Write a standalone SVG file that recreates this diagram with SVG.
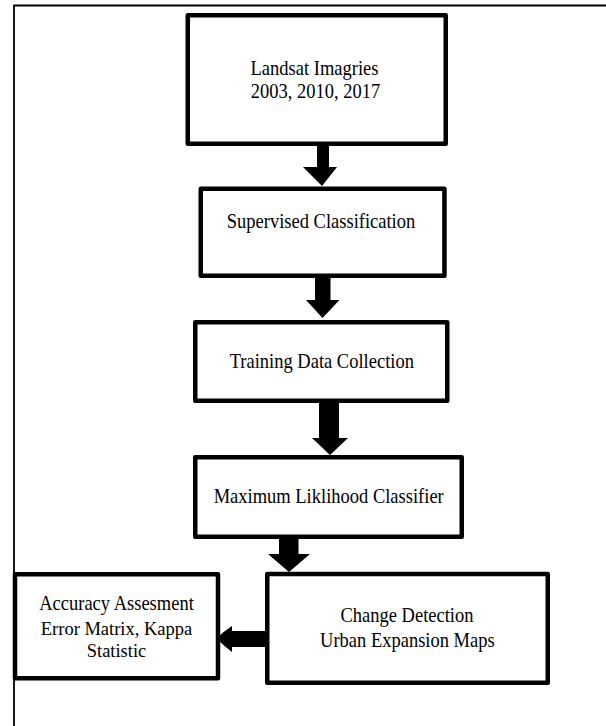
<svg xmlns="http://www.w3.org/2000/svg" width="606" height="726" viewBox="0 0 606 726">
<style>
.box{fill:#fff;stroke:#000;stroke-width:4.5;stroke-linejoin:round}
.arr{fill:#000;stroke:none}
.frame{fill:none;stroke:#000;stroke-width:1.8}
text{font-family:"Liberation Serif","Times New Roman",serif;font-size:18.5px;fill:#000;text-anchor:middle}
</style>
<rect width="606" height="726" fill="#fff"/>
<path class="frame" d="M14,726 V5.5 H606"/>
<g id="connectors">
<polygon class="arr" points="317,146 329,146 329,167 337,167 322,186 303,167 317,167"/>
<polygon class="arr" points="315,278 330.5,278 330.5,300 339.5,300 322.5,318 306,300 315,300"/>
<polygon class="arr" points="319,403 339,403 339,438 348,438 330,455 312,438 319,438"/>
<polygon class="arr" points="279,539 298.5,539 298.5,554 310,554 289,572 268,554 279,554"/>
<path class="arr" d="M265,631 V647 H232 V652 Q224,646 216.5,638.5 Q224,631 232,626 V631 Z"/>
</g>
<g id="node1">
<rect class="box" x="187.75" y="15.25" width="258" height="128.5"/>
<text transform="translate(314.5,75) scale(1,1.14)">Landsat Imagries</text>
<text transform="translate(315.5,98) scale(1,1.14)">2003, 2010, 2017</text>
</g>
<g id="node2">
<rect class="box" x="200.75" y="188.75" width="243.7" height="87"/>
<text transform="translate(321,227.5) scale(1,1.14)">Supervised Classification</text>
</g>
<g id="node3">
<rect class="box" x="195.25" y="322.25" width="252" height="78.5"/>
<text transform="translate(321.8,368.3) scale(1,1.14)">Training Data Collection</text>
</g>
<g id="node4">
<rect class="box" x="195.25" y="457.25" width="266.5" height="79.5"/>
<text transform="translate(328.7,503.3) scale(1,1.14)">Maximum Liklihood Classifier</text>
</g>
<g id="node5">
<rect class="box" x="267.25" y="574" width="280.5" height="108.75"/>
<text transform="translate(407,621.7) scale(1,1.14)">Change Detection</text>
<text transform="translate(407.4,646.7) scale(1,1.14)">Urban Expansion Maps</text>
</g>
<g id="node6">
<rect class="box" x="15" y="574.25" width="203" height="104"/>
<text transform="translate(116.5,610) scale(1,1.14)">Accuracy Assesment</text>
<text transform="translate(116.5,634.5) scale(1,1.05)">Error Matrix, Kappa</text>
<text transform="translate(116.5,656.5) scale(1,1.05)">Statistic</text>
</g>
</svg>
